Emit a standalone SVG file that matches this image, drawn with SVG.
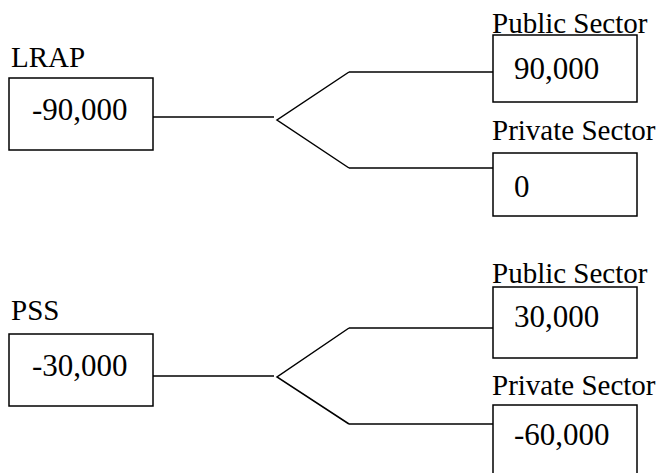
<svg xmlns="http://www.w3.org/2000/svg" width="657" height="473" viewBox="0 0 657 473">
<style>
.box{fill:#fff;stroke:#000;stroke-width:1.5}
.lbl{font-family:"Liberation Serif","Times New Roman",serif;font-size:29px;fill:#000}
.num{font-family:"Liberation Serif","Times New Roman",serif;font-size:31px;fill:#000}
.ln{fill:none;stroke:#000;stroke-width:1.5}
</style>
<rect width="657" height="473" fill="#fff"/>
<g id="connectors">
<path class="ln" d="M153,117 H274"/>
<path class="ln" d="M349,72 L277,120 L349,168"/>
<path class="ln" d="M349,72 H493"/>
<path class="ln" d="M349,168 H493"/>
<path class="ln" d="M153,376 H274"/>
<path class="ln" d="M349,328 L277,377 L349,424"/>
<path class="ln" d="M349,328 H493"/>
<path class="ln" d="M349,424 H493"/>
</g>
<g id="lrap">
<text class="lbl" x="11" y="67">LRAP</text>
<rect class="box" x="9" y="78" width="144" height="72"/>
<text class="num" x="32" y="120">-90,000</text>
</g>
<g id="lrap-public">
<text class="lbl" x="492" y="33">Public Sector</text>
<rect class="box" x="493" y="35" width="144" height="67"/>
<text class="num" x="514" y="79">90,000</text>
</g>
<g id="lrap-private">
<text class="lbl" x="492" y="140">Private Sector</text>
<rect class="box" x="493" y="153" width="144" height="63"/>
<text class="num" x="514" y="197">0</text>
</g>
<g id="pss">
<text class="lbl" x="11" y="320">PSS</text>
<rect class="box" x="9" y="334" width="144" height="72"/>
<text class="num" x="32" y="376">-30,000</text>
</g>
<g id="pss-public">
<text class="lbl" x="492" y="283">Public Sector</text>
<rect class="box" x="493" y="287" width="144" height="71"/>
<text class="num" x="514" y="327">30,000</text>
</g>
<g id="pss-private">
<text class="lbl" x="492" y="395">Private Sector</text>
<rect class="box" x="493" y="405" width="144" height="75"/>
<text class="num" x="514" y="445">-60,000</text>
</g>
</svg>
